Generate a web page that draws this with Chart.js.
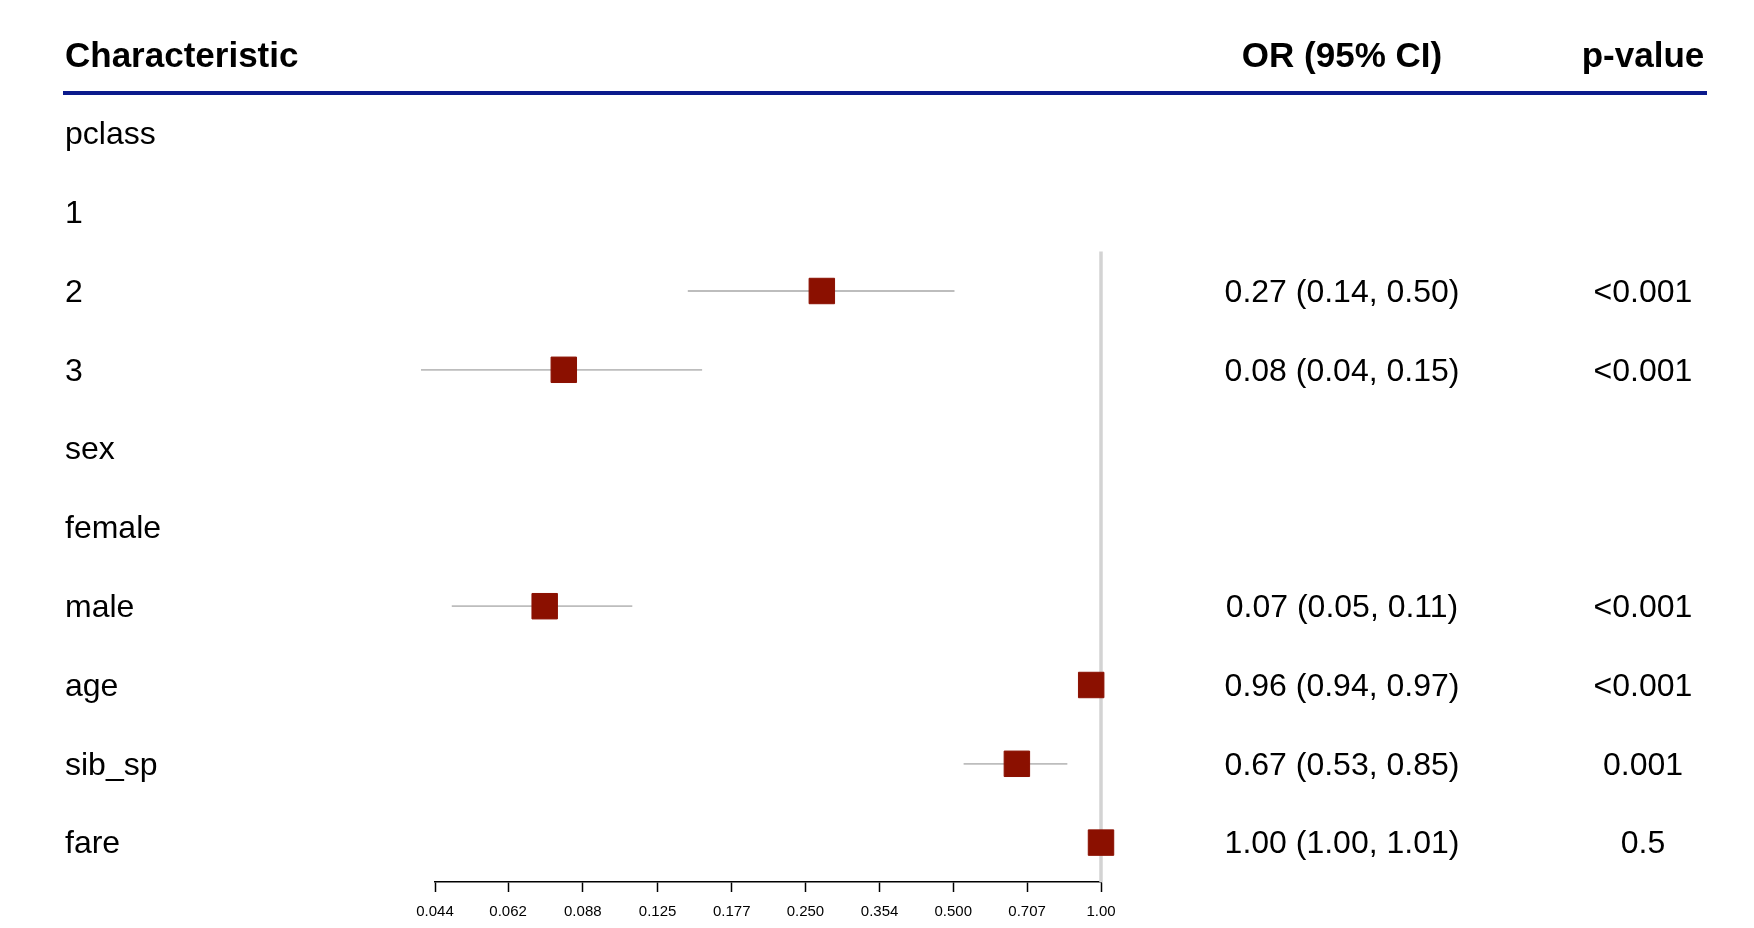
<!DOCTYPE html>
<html>
<head>
<meta charset="utf-8">
<script src="https://cdn.jsdelivr.net/npm/chart.js@4"></script>
<style>
  body { margin: 0; background: #fff; }
  canvas { display: block; }
</style>
</head>
<body>
<canvas id="forest" width="1754" height="928"></canvas>
<script>
// rows of the table (top to bottom)
const rows = ['pclass', '1', '2', '3', 'sex', 'female', 'male', 'age', 'sib_sp', 'fare'];
// odds ratio and 95% CI (null = header / reference row)
const oddsRatio = [null, null, 0.27, 0.0805, null, null, 0.0736, 0.955, 0.674, 1.0];
const ciLow     = [null, null, 0.144, 0.0412, null, null, 0.0476, 0.94, 0.525, 1.0];
const ciHigh    = [null, null, 0.503, 0.154, null, null, 0.111, 0.97, 0.854, 1.01];
// text columns
const orText = ['', '', '0.27 (0.14, 0.50)', '0.08 (0.04, 0.15)', '', '', '0.07 (0.05, 0.11)', '0.96 (0.94, 0.97)', '0.67 (0.53, 0.85)', '1.00 (1.00, 1.01)'];
const pText  = ['', '', '<0.001', '<0.001', '', '', '<0.001', '<0.001', '0.001', '0.5'];
// x axis ticks
const tickValues = [0.044, 0.062, 0.088, 0.125, 0.177, 0.25, 0.354, 0.5, 0.707, 1];
const tickLabels = ['0.044', '0.062', '0.088', '0.125', '0.177', '0.250', '0.354', '0.500', '0.707', '1.00'];
const headers = ['Characteristic', 'OR (95% CI)', 'p-value'];

Chart.defaults.font.family = '"Liberation Sans", Arial, sans-serif';
Chart.defaults.color = '#000';

// squares first so they end up on top
const datasets = [{
  type: 'scatter',
  label: 'OR',
  data: rows.map((r, i) => ({ x: oddsRatio[i], y: i })).filter(p => p.x !== null),
  pointStyle: 'rect',
  pointRadius: 18,
  pointHoverRadius: 18,
  backgroundColor: '#8b1000',
  borderColor: '#8b1000',
  borderWidth: 1,
  clip: false
}];

// CI whiskers, one small line per row
rows.forEach((r, i) => {
  if (ciLow[i] === null) return;
  datasets.push({
    type: 'line',
    data: [{ x: ciLow[i], y: i }, { x: ciHigh[i], y: i }],
    borderColor: '#bdbdbd',
    borderWidth: 1.8,
    pointRadius: 0,
    clip: false,
    order: 1
  });
});

// vertical line at OR = 1
datasets.push({
  type: 'line',
  data: [{ x: 1, y: 1.5 }, { x: 1, y: rows.length - 0.5 }],
  borderColor: '#d3d3d3',
  borderWidth: 3.5,
  pointRadius: 0,
  clip: false,
  order: 2
});

// table text: header, blue rule, OR and p-value columns
const tablePlugin = {
  id: 'tableText',
  afterDraw(chart) {
    const ctx = chart.ctx;
    const y = chart.scales.y;
    ctx.save();
    ctx.fillStyle = '#000';
    ctx.font = 'bold 35px "Liberation Sans", Arial, sans-serif';
    ctx.textBaseline = 'alphabetic';
    ctx.textAlign = 'left';
    ctx.fillText(headers[0], 65, 67);
    ctx.textAlign = 'center';
    ctx.fillText(headers[1], 1342, 67);
    ctx.fillText(headers[2], 1643, 67);

    ctx.strokeStyle = '#0b1a8c';
    ctx.lineWidth = 4;
    ctx.beginPath();
    ctx.moveTo(63, 93);
    ctx.lineTo(1707, 93);
    ctx.stroke();

    ctx.font = '32px "Liberation Sans", Arial, sans-serif';
    ctx.textBaseline = 'middle';
    rows.forEach((r, i) => {
      const py = y.getPixelForValue(i) + 2;
      ctx.fillText(orText[i], 1342, py);
      ctx.fillText(pText[i], 1643, py);
    });
    ctx.restore();
  }
};

new Chart(document.getElementById('forest'), {
  data: { datasets: datasets },
  options: {
    responsive: false,
    animation: false,
    events: [],
    layout: { padding: { left: 65, right: 653, top: 94, bottom: 0 } },
    plugins: { legend: { display: false }, tooltip: { enabled: false } },
    scales: {
      x: {
        type: 'logarithmic',
        min: 0.044,
        max: 1,
        afterBuildTicks: s => { s.ticks = tickValues.map(v => ({ value: v })); },
        afterFit: s => { s.height = 46; },
        ticks: {
          autoSkip: false,
          maxRotation: 0,
          padding: 11,
          font: { size: 15 },
          callback: (v, i) => tickLabels[i]
        },
        grid: {
          display: true,
          drawOnChartArea: false,
          drawTicks: true,
          tickLength: 10,
          tickColor: '#000',
          tickWidth: 1.5
        },
        border: { display: true, color: '#000', width: 1.5 }
      },
      y: {
        type: 'linear',
        reverse: true,
        min: -0.5,
        max: rows.length - 0.5,
        afterBuildTicks: s => { s.ticks = rows.map((r, i) => ({ value: i })); },
        afterFit: s => { s.width = 370; },
        ticks: {
          autoSkip: false,
          crossAlign: 'far',
          labelOffset: 2,
          font: { size: 32 },
          callback: v => rows[v]
        },
        grid: { display: false },
        border: { display: false }
      }
    }
  },
  plugins: [tablePlugin]
});
</script>
</body>
</html>
